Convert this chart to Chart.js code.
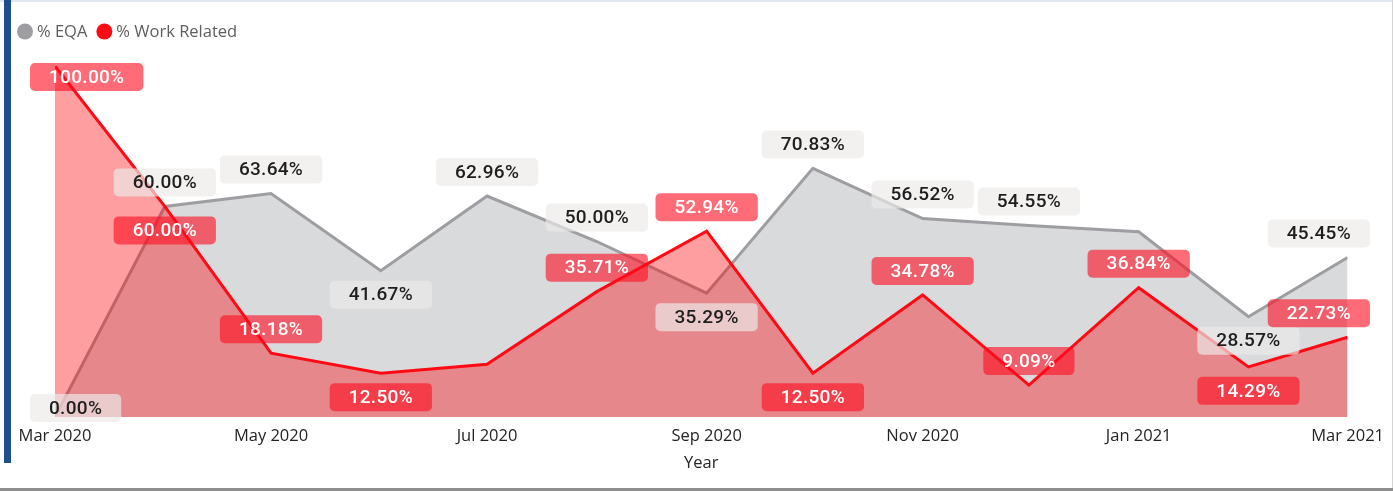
<!DOCTYPE html>
<html>
<head>
<meta charset="utf-8">
<script src="https://cdn.jsdelivr.net/npm/chart.js@4/dist/chart.umd.min.js"></script>
<style>
  html, body { margin: 0; padding: 0; background: #fff; }
  #wrap { position: relative; width: 1393px; height: 491px; overflow: hidden; background: #fff; }
  #wrap canvas { position: absolute; left: 0; top: 0; }
  .topline { position: absolute; left: 0; top: 0; width: 1393px; height: 2px; background: #e0e6ef; }
  .rightline { position: absolute; left: 1392px; top: 0; width: 1px; height: 488px; background: #d4d4d4; }
  .bluebar { position: absolute; left: 4px; top: 0; width: 7px; height: 463px; background: #1f4e8c; }
  .bottombar { position: absolute; left: 0; top: 488px; width: 1393px; height: 3px; background: #8e8e8e; }
</style>
</head>
<body>
<div id="wrap">
  <canvas id="c" width="1393" height="491" style="width:1393px;height:491px"></canvas>
  <div class="topline"></div>
  <div class="rightline"></div>
  <div class="bluebar"></div>
  <div class="bottombar"></div>
</div>
<script>
// ---- data ----
const months = ['2020-03','2020-04','2020-05','2020-06','2020-07','2020-08','2020-09',
                '2020-10','2020-11','2020-12','2021-01','2021-02','2021-03'];
const eqaValues  = [0, 60, 63.64, 41.67, 62.96, 50, 35.29, 70.83, 56.52, 54.55, 52.78, 28.57, 45.45];
const workValues = [100, 60, 18.18, 12.5, 15, 35.71, 52.94, 12.5, 34.78, 9.09, 36.84, 14.29, 22.73];
const tickMonths = ['2020-03','2020-05','2020-07','2020-09','2020-11','2021-01','2021-03'];
const tickLabels = ['Mar 2020','May 2020','Jul 2020','Sep 2020','Nov 2020','Jan 2021','Mar 2021'];
const seriesNames = ['% EQA', '% Work Related'];
const xTitle = 'Year';

// label placement (styling): 1 = above, -1 = below, 0 = hidden
const eqaLabelSide  = [-1, 1, 1, -1, 1, 1, -1, 1, 1, 1, 0, -1, 1];
const workLabelSide = [1, -1, 1, -1, 0, 1, 1, -1, 1, 1, 1, -1, 1];

// ---- helpers ----
const DAY = 86400000;
function monthToDays(m) {
  const [y, mo] = m.split('-').map(Number);
  const [y0, m0] = months[0].split('-').map(Number);
  return (Date.UTC(y, mo - 1, 1) - Date.UTC(y0, m0 - 1, 1)) / DAY;
}
const xDays = months.map(monthToDays);
const tickDays = tickMonths.map(monthToDays);
const tickMap = {};
tickDays.forEach((d, i) => tickMap[d] = tickLabels[i]);

const GRAY = '#9e9ea2';
const RED = '#ff0a14';

const labelPlugin = {
  id: 'boxLabels',
  afterDatasetsDraw(chart) {
    const ctx = chart.ctx;
    const xs = chart.scales.x, ys = chart.scales.y;
    const sets = [
      { vals: eqaValues, side: eqaLabelSide, bg: 'rgba(236,235,233,0.68)', fg: '#1e1e1e' },
      { vals: workValues, side: workLabelSide, bg: 'rgba(255,10,30,0.6)', fg: '#ffffff' }
    ];
    ctx.save();
    ctx.font = '500 19px Roboto';
    try { ctx.letterSpacing = '0.3px'; } catch (e) {}
    ctx.textAlign = 'center';
    ctx.textBaseline = 'middle';
    const H = 28, PAD = 19, OFF = 24;
    const minX = 30, maxX = 1370, minY = 63, maxY = 422;
    sets.forEach(s => {
      s.vals.forEach((v, i) => {
        const side = s.side[i];
        if (!side) return;
        const txt = v.toFixed(2) + '%';
        const px = xs.getPixelForValue(xDays[i]);
        const py = ys.getPixelForValue(v);
        const w = ctx.measureText(txt).width + PAD * 2;
        let cy = py - side * OFF;
        let bx = Math.min(Math.max(px - w / 2, minX), maxX - w);
        let by = Math.min(Math.max(cy - H / 2, minY), maxY - H);
        ctx.fillStyle = s.bg;
        ctx.beginPath();
        ctx.roundRect(bx, by, w, H, 5);
        ctx.fill();
        ctx.fillStyle = s.fg;
        ctx.fillText(txt, bx + w / 2, by + H / 2 + 1);
      });
    });
    ctx.restore();
  }
};

const legendPlugin = {
  id: 'customLegend',
  afterDraw(chart) {
    const ctx = chart.ctx;
    ctx.save();
    ctx.font = '16.5px "Open Sans"';
    ctx.textBaseline = 'middle';
    ctx.textAlign = 'left';
    let x = 17;
    const y = 31.5;
    const colors = [GRAY, RED];
    seriesNames.forEach((name, i) => {
      ctx.fillStyle = colors[i];
      ctx.beginPath();
      ctx.arc(x + 8, y, 8, 0, Math.PI * 2);
      ctx.fill();
      ctx.fillStyle = '#605e5c';
      ctx.fillText(name, x + 20, y + 0.5);
      x += 20 + ctx.measureText(name).width + 9;
    });
    ctx.restore();
  }
};

new Chart(document.getElementById('c'), {
  type: 'line',
  data: {
    datasets: [
      {
        label: seriesNames[0],
        data: xDays.map((d, i) => ({ x: d, y: eqaValues[i] })),
        borderColor: GRAY,
        backgroundColor: 'rgba(217,218,220,1)',
        borderWidth: 3,
        fill: 'origin',
        pointRadius: 0,
        tension: 0,
        order: 1
      },
      {
        label: seriesNames[1],
        data: xDays.map((d, i) => ({ x: d, y: workValues[i] })),
        borderColor: RED,
        backgroundColor: 'rgba(253,0,8,0.38)',
        borderWidth: 3,
        fill: 'origin',
        pointRadius: 0,
        tension: 0,
        order: 0
      }
    ]
  },
  options: {
    responsive: false,
    animation: false,
    devicePixelRatio: 1,
    layout: { padding: { left: 55, right: 45, top: 66, bottom: 0 } },
    plugins: { legend: { display: false }, tooltip: { enabled: false } },
    scales: {
      x: {
        type: 'linear',
        min: xDays[0],
        max: xDays[xDays.length - 1],
        grid: { display: false, drawTicks: false },
        border: { display: false },
        afterBuildTicks(scale) { scale.ticks = tickDays.map(v => ({ value: v })); },
        afterFit(scale) { scale.height = 74; },
        ticks: {
          autoSkip: false,
          maxRotation: 0,
          padding: 9,
          color: '#252423',
          font: { family: '"Open Sans"', size: 16.5 },
          callback: v => tickMap[v] || ''
        },
        title: {
          display: true,
          text: xTitle,
          color: '#252423',
          font: { family: '"Open Sans"', size: 16.5 },
          padding: { top: 0, bottom: 18 }
        }
      },
      y: { display: false, min: 0, max: 100 }
    }
  },
  plugins: [labelPlugin, legendPlugin]
});
</script>
</body>
</html>
